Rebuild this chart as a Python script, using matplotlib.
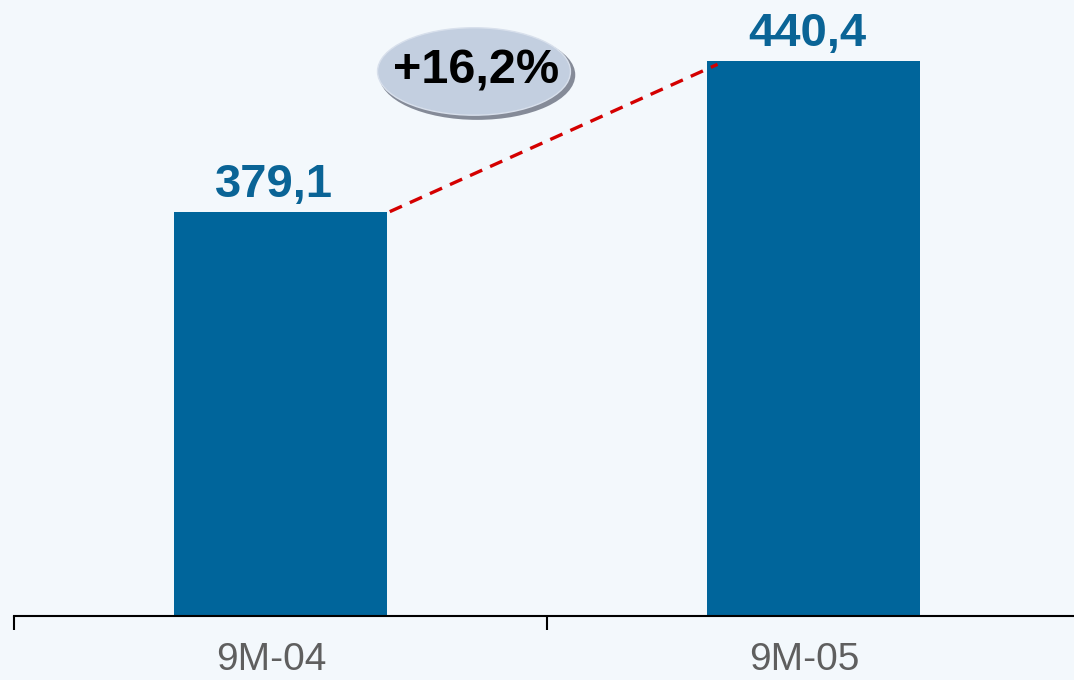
import matplotlib.pyplot as plt
from matplotlib.patches import Ellipse
import numpy as np

categories = ['9M-04', '9M-05']
values = [379.1, 440.4]
value_labels = ['379,1', '440,4']
growth_label = '+16,2%'

plt.rcParams['font.family'] = ['Liberation Sans', 'DejaVu Sans']

bg = '#f3f8fc'
bar_color = '#00659b'

fig = plt.figure(figsize=(10.74, 6.80), dpi=100, facecolor=bg)
ax = fig.add_axes([14 / 1074, 64 / 680, 1066 / 1074, 616 / 680])
ax.set_facecolor(bg)

x = np.arange(len(categories)) + 0.5
ax.bar(x, values, width=0.4, color=bar_color, zorder=2)

ax.set_xlim(0, 2)
ax.set_ylim(215, 465)

# value labels above bars
for xi, v, lab in zip(x, values, value_labels):
    ax.text(xi - 0.012, v + 6, lab, ha='center', va='baseline', fontsize=34,
            fontweight='bold', color='#0a6496')

# dashed growth line between bar tops
ax.plot([x[0] + 0.205, x[1] - 0.18], [values[0], values[1] - 1.5], color='#d40000',
        lw=2.4, dashes=(4, 2.6), zorder=3, solid_capstyle='butt')

# growth bubble
cx, cy = 0.863, 436
ax.add_patch(Ellipse((cx + 0.006, cy - 1.4), 0.368, 36.5, facecolor='#858b98',
                     edgecolor='none', zorder=4))
ax.add_patch(Ellipse((cx, cy), 0.362, 35.5, facecolor='#c3cfe0',
                     edgecolor='#d8e0ec', lw=1, zorder=5))
ax.text(cx + 0.003, cy, growth_label, ha='center', va='center', fontsize=35,
        fontweight='bold', color='black', zorder=6)

# axis styling
for s in ['top', 'right', 'left']:
    ax.spines[s].set_visible(False)
ax.spines['bottom'].set_linewidth(1.5)
ax.spines['bottom'].set_color('black')
ax.set_yticks([])
ax.set_xticks([0, 1, 2])
ax.set_xticklabels([])
ax.tick_params(axis='x', which='major', length=10, width=1.5, color='black')
ax.set_xticks(x - 0.017, minor=True)
ax.set_xticklabels(categories, minor=True, fontsize=28, color='#5f5f5f')
ax.tick_params(axis='x', which='minor', length=0, pad=19)

fig.savefig('out.png', dpi=100, facecolor=bg)
